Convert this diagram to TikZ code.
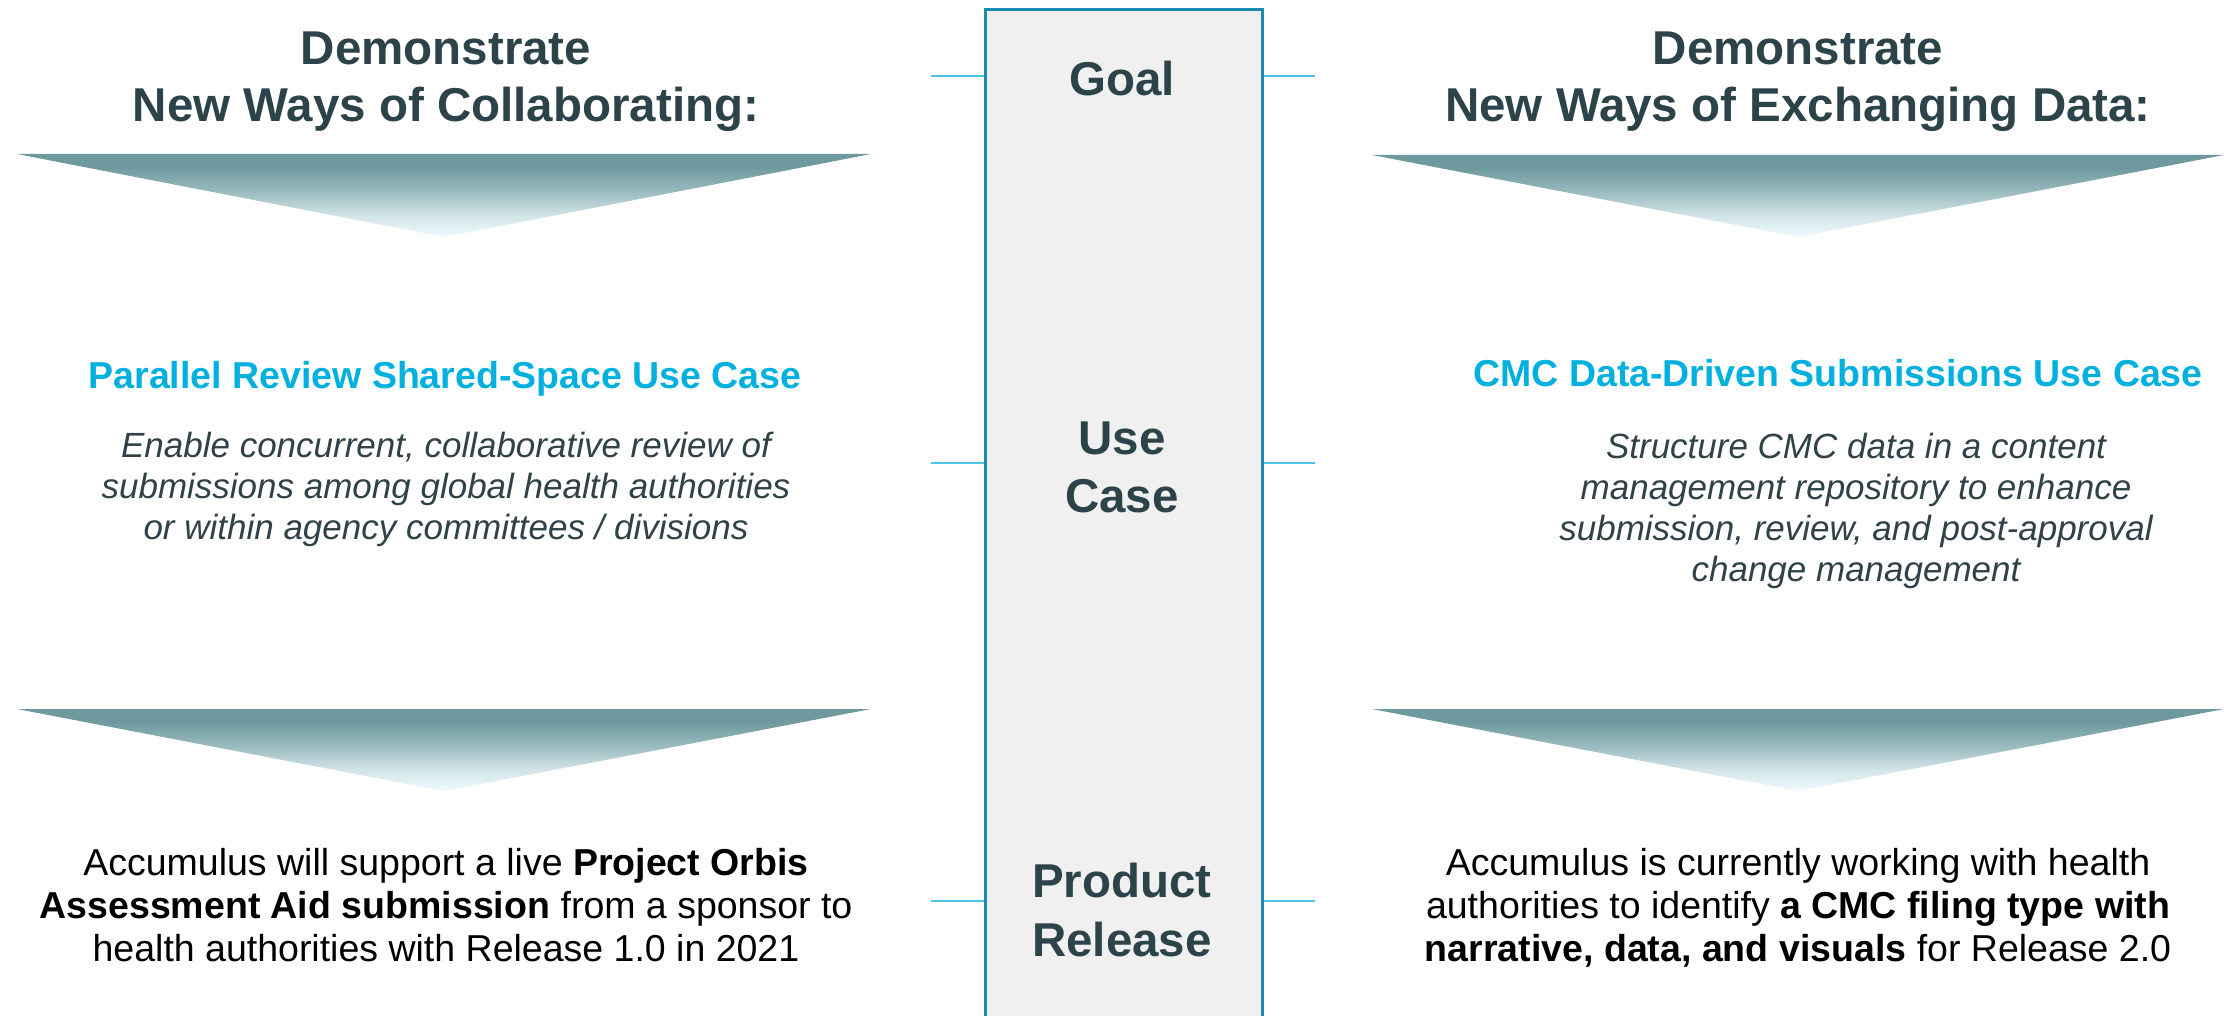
\documentclass[tikz,border=0pt]{standalone}
\usepackage{fontspec}
\setmainfont{Liberation Sans}
\definecolor{hdrc}{HTML}{2C4349}
\definecolor{bluec}{HTML}{00B0DE}
\definecolor{descc}{HTML}{2E4248}
\definecolor{boxline}{HTML}{1A8CB0}
\definecolor{boxfill}{HTML}{F0F0F0}
\definecolor{tickc}{HTML}{4CC5E8}
\definecolor{tridark}{HTML}{6E9A9F}
\definecolor{trimid}{HTML}{98B9BD}
\definecolor{trimid2}{HTML}{D2E5E8}
\definecolor{trilight}{HTML}{EFFAFD}
\pgfdeclareverticalshading{trishade}{100bp}{color(0bp)=(trilight); color(25bp)=(trilight); color(38bp)=(trimid2); color(53bp)=(trimid); color(67bp)=(tridark); color(100bp)=(tridark)}
\begin{document}
\begin{tikzpicture}[x=1pt,y=-1pt,
  hdr/.style={anchor=base, text=hdrc, font=\bfseries\fontsize{47.5}{57}\selectfont, inner sep=0pt},
  ttl/.style={anchor=base, text=bluec, font=\bfseries\fontsize{37.5}{45}\selectfont, inner sep=0pt},
  desc/.style={anchor=base, text=descc, font=\itshape\fontsize{35}{41}\selectfont, inner sep=0pt},
  rel/.style={anchor=base, text=black, font=\fontsize{37.5}{43}\selectfont, inner sep=0pt},
  colbox/.style={draw=boxline, fill=boxfill, line width=3pt, inner sep=0pt, anchor=north west},
  tick/.style={draw=tickc, line width=2pt},
  tri/.style={shading=trishade}
]
\useasboundingbox (0,0) rectangle (2224,1016);

% central column
\node[colbox, minimum width=277pt, minimum height=1030pt] (col) at (984,8) {};

% tick connectors
\coordinate (gL) at (931,76);  \coordinate (gR) at (1315,76);
\coordinate (uL) at (931,463); \coordinate (uR) at (1315,463);
\coordinate (pL) at (931,901); \coordinate (pR) at (1315,901);
\draw[tick] (gL) -- (gL -| col.west);
\draw[tick] (col.east |- gR) -- (gR);
\draw[tick] (uL) -- (uL -| col.west);
\draw[tick] (col.east |- uR) -- (uR);
\draw[tick] (pL) -- (pL -| col.west);
\draw[tick] (col.east |- pR) -- (pR);

% center labels
\node[hdr] (goal) at (1122,96) {Goal};
\node[hdr] (use1) at (1122,454) {Use};
\node[hdr] (use2) at (1122,512) {Case};
\node[hdr] (pr1) at (1122,897) {Product};
\node[hdr] (pr2) at (1122,956) {Release};

% triangles
\shade[tri] (17,154) -- (871,154) -- (444,237) -- cycle;
\shade[tri] (1372,155) -- (2224,155) -- (1798,237) -- cycle;
\shade[tri] (17,709) -- (871,709) -- (444,791) -- cycle;
\shade[tri] (1372,709) -- (2224,709) -- (1798,791) -- cycle;

% left column texts
\node[hdr] (lh1) at (446,65) {Demonstrate};
\node[hdr] (lh2) at (446,122) {New Ways of Collaborating:};
\node[ttl] (lt) at (445,388) {Parallel Review Shared-Space Use Case};
\node[desc] (ld1) at (446,457) {Enable concurrent, collaborative review of};
\node[desc] (ld2) at (446,498) {submissions among global health authorities};
\node[desc] (ld3) at (446,539) {or within agency committees / divisions};
\node[rel] (lr1) at (446,875) {Accumulus will support a live \textbf{Project Orbis}};
\node[rel] (lr2) at (446,918) {\textbf{Assessment Aid submission} from a sponsor to};
\node[rel] (lr3) at (446,961) {health authorities with Release 1.0 in 2021};

% right column texts
\node[hdr] (rh1) at (1798,65) {Demonstrate};
\node[hdr] (rh2) at (1798,122) {New Ways of Exchanging Data:};
\node[ttl] (rt) at (1838,386) {CMC Data-Driven Submissions Use Case};
\node[desc] (rd1) at (1856,458) {Structure CMC data in a content};
\node[desc] (rd2) at (1856,499) {management repository to enhance};
\node[desc] (rd3) at (1856,540) {submission, review, and post-approval};
\node[desc] (rd4) at (1856,581) {change management};
\node[rel] (rr1) at (1798,875) {Accumulus is currently working with health};
\node[rel] (rr2) at (1798,918) {authorities to identify \textbf{a CMC filing type with}};
\node[rel] (rr3) at (1798,961) {\textbf{narrative, data, and visuals} for Release 2.0};
\end{tikzpicture}
\end{document}
